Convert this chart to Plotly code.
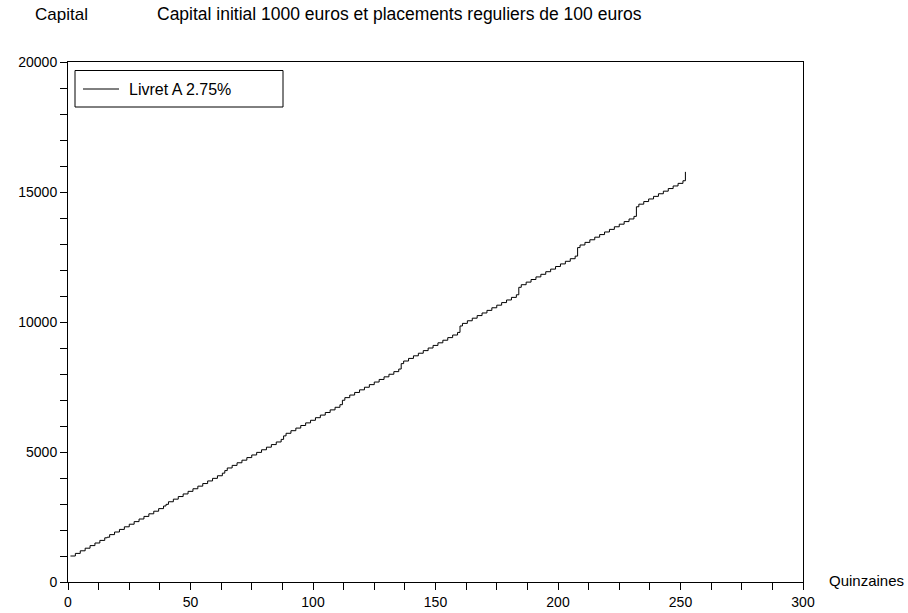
import plotly.graph_objects as go

# Quinzaine index at which the capital changes (deposit or yearly interest)
quinzaines = [
    1, 3, 5, 7, 9, 11, 13, 15, 16,
    17, 19, 21, 23, 25, 27, 29, 31, 33, 35, 37, 39, 40,
    41, 43, 45, 47, 49, 51, 53, 55, 57, 59, 61, 63, 64,
    65, 67, 69, 71, 73, 75, 77, 79, 81, 83, 85, 87, 88,
    89, 91, 93, 95, 97, 99, 101, 103, 105, 107, 109, 111, 112,
    113, 115, 117, 119, 121, 123, 125, 127, 129, 131, 133, 135, 136,
    137, 139, 141, 143, 145, 147, 149, 151, 153, 155, 157, 159, 160,
    161, 163, 165, 167, 169, 171, 173, 175, 177, 179, 181, 183, 184,
    185, 187, 189, 191, 193, 195, 197, 199, 201, 203, 205, 207, 208,
    209, 211, 213, 215, 217, 219, 221, 223, 225, 227, 229, 231, 232,
    233, 235, 237, 239, 241, 243, 245, 247, 249, 251, 252,
]

# Capital (euros) from that quinzaine on
capital = [
    1000, 1100, 1200, 1300, 1400, 1500, 1600, 1700, 1722.8,
    1822.8, 1922.8, 2022.8, 2122.8, 2222.8, 2322.8, 2422.8, 2522.8, 2622.8, 2722.8, 2822.8, 2922.8, 2986.7,
    3086.7, 3186.7, 3286.7, 3386.7, 3486.7, 3586.7, 3686.7, 3786.7, 3886.7, 3986.7, 4086.7, 4186.7, 4285.3,
    4385.3, 4485.3, 4585.3, 4685.3, 4785.3, 4885.3, 4985.3, 5085.3, 5185.3, 5285.3, 5385.3, 5485.3, 5619.6,
    5719.6, 5819.6, 5919.6, 6019.6, 6119.6, 6219.6, 6319.6, 6419.6, 6519.6, 6619.6, 6719.6, 6819.6, 6990.6,
    7090.6, 7190.6, 7290.6, 7390.6, 7490.6, 7590.6, 7690.6, 7790.6, 7890.6, 7990.6, 8090.6, 8190.6, 8399.3,
    8499.3, 8599.3, 8699.3, 8799.3, 8899.3, 8999.3, 9099.3, 9199.3, 9299.3, 9399.3, 9499.3, 9599.3, 9846.8,
    9946.8, 10046.8, 10146.8, 10246.8, 10346.8, 10446.8, 10546.8, 10646.8, 10746.8, 10846.8, 10946.8, 11046.8, 11334.1,
    11434.1, 11534.1, 11634.1, 11734.1, 11834.1, 11934.1, 12034.1, 12134.1, 12234.1, 12334.1, 12434.1, 12534.1, 12862.3,
    12962.3, 13062.3, 13162.3, 13262.3, 13362.3, 13462.3, 13562.3, 13662.3, 13762.3, 13862.3, 13962.3, 14062.3, 14432.5,
    14532.5, 14632.5, 14732.5, 14832.5, 14932.5, 15032.5, 15132.5, 15232.5, 15332.5, 15432.5, 15774.7,
]

x_ticks = [0, 50, 100, 150, 200, 250, 300]
y_ticks = [0, 5000, 10000, 15000, 20000]
series_name = "Livret A 2.75%"
title_text = "Capital initial 1000 euros et placements reguliers de 100 euros"
y_label = "Capital"
x_label = "Quinzaines"

FONT = "Liberation Sans, Arial, sans-serif"
W, H = 908, 613
L, R, T, B = 68, 105, 62, 31
PW, PH = W - L - R, H - T - B


def px(xp):
    return (xp - L) / PW


def py(yp):
    return (H - B - yp) / PH


fig = go.Figure()
fig.add_trace(go.Scatter(
    x=quinzaines, y=capital, mode="lines", name=series_name,
    line=dict(color="black", width=1, shape="hv"), showlegend=False,
    hoverinfo="x+y",
))

axis_common = dict(
    showgrid=False, zeroline=False, showline=True, linecolor="black", linewidth=1,
    mirror=True, ticks="outside", ticklen=7, tickcolor="black", tickwidth=1,
    tickfont=dict(family=FONT, size=14, color="black"), automargin=False,
)
fig.update_xaxes(range=[0, 300], tickvals=x_ticks, ticktext=[str(v) for v in x_ticks],
                 minor=dict(dtick=12.5, tick0=0, ticks="outside", ticklen=7, tickcolor="black"),
                 **axis_common)
fig.update_yaxes(range=[0, 20000], tickvals=y_ticks, ticktext=[str(v) for v in y_ticks],
                 minor=dict(dtick=1000, tick0=0, ticks="outside", ticklen=7, tickcolor="black"),
                 **axis_common)

# Legend box drawn Scilab-style
fig.add_shape(type="rect", xref="paper", yref="paper",
              x0=px(75), x1=px(283), y0=py(107), y1=py(70.5),
              line=dict(color="black", width=1), fillcolor="white")
fig.add_shape(type="line", xref="paper", yref="paper",
              x0=px(83), x1=px(119), y0=py(89), y1=py(89),
              line=dict(color="black", width=1))

annots = [
    dict(text=series_name, x=px(127), y=py(89), xanchor="left", yanchor="middle", size=16),
    dict(text=y_label, x=px(33), y=py(14), xanchor="left", yanchor="middle", size=17),
    dict(text=title_text, x=px(155), y=py(14), xanchor="left", yanchor="middle", size=17.5),
    dict(text=x_label, x=px(827), y=py(580), xanchor="left", yanchor="middle", size=15),
]
for a in annots:
    size = a.pop("size")
    fig.add_annotation(xref="paper", yref="paper", showarrow=False,
                       font=dict(family=FONT, size=size, color="black"), **a)

fig.update_layout(
    width=W, height=H, margin=dict(l=L, r=R, t=T, b=B, pad=0),
    paper_bgcolor="white", plot_bgcolor="white",
)

fig.write_html("out.html")
